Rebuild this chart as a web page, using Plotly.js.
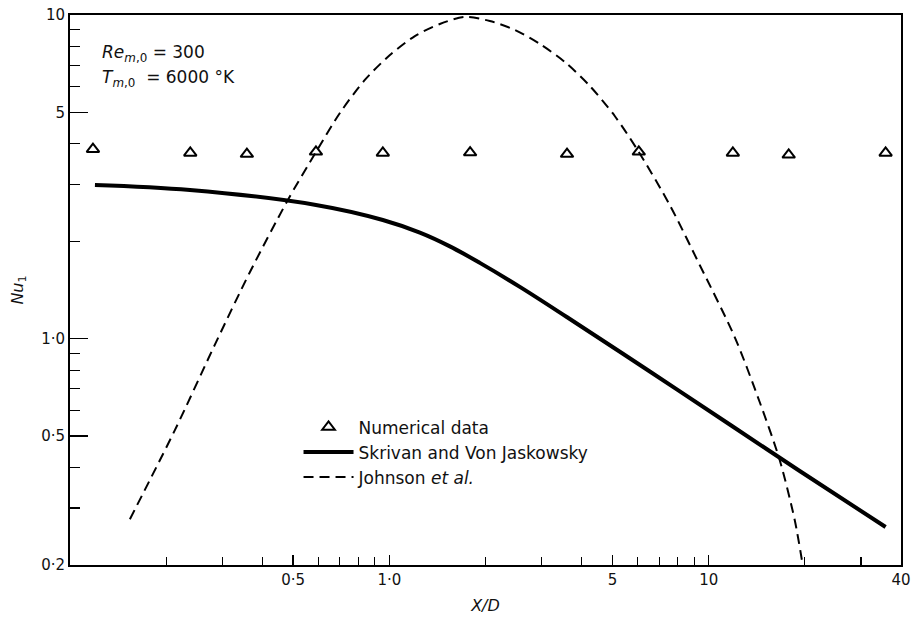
<!DOCTYPE html>
<html>
<head>
<meta charset="utf-8">
<script src="https://cdn.plot.ly/plotly-3.0.1.min.js"></script>
<style>html,body{margin:0;padding:0;background:#fff;}#chart{width:912px;height:617px;}</style>
</head>
<body>
<div id="chart"></div>
<script>
// Numerical data (triangles)
const numX = [0.118, 0.238, 0.358, 0.589, 0.954, 1.79, 3.60, 6.04, 11.9, 17.8, 35.8];
const numY = [3.85, 3.75, 3.72, 3.78, 3.75, 3.76, 3.72, 3.78, 3.75, 3.70, 3.75];
// Skrivan and Von Jaskowsky (solid)
const skX = [0.1197, 0.2375, 0.589, 0.954, 1.246, 1.547, 1.920, 2.562, 3.594, 6.54, 11.89, 19.27, 35.8];
const skY = [2.985, 2.88, 2.589, 2.327, 2.127, 1.929, 1.715, 1.446, 1.167, 0.792, 0.5356, 0.3904, 0.262];
// Johnson et al. (dashed)
const joX = [0.154, 0.213, 0.284, 0.366, 0.481, 0.589, 0.700, 0.838, 1.004, 1.202, 1.439, 1.723,
             2.063, 2.471, 2.959, 3.542, 4.242, 5.079, 6.04, 7.55, 9.37, 12.06, 14.44, 16.68, 18.59, 19.69];
const joY = [0.277, 0.522, 0.957, 1.607, 2.683, 3.774, 4.98, 6.30, 7.52, 8.61, 9.38, 9.86,
             9.58, 8.99, 8.14, 7.16, 6.04, 4.875, 3.774, 2.589, 1.69, 1.012, 0.6375, 0.422, 0.2754, 0.2];
// Axis ticks
const xTickVals = [0.5, 1, 5, 10, 40];
const xTickText = ['0·5', '1·0', '5', '10', '40'];
const xMinorVals = [0.2, 0.3, 0.4, 0.6, 0.7, 0.8, 0.9, 2, 3, 4, 6, 7, 8, 9, 20, 30];
const yTickVals = [0.2, 0.5, 1, 5, 10];
const yTickText = ['0·2', '0·5', '1·0', '5', '10'];
const yMinorVals = [0.3, 0.4, 0.6, 0.7, 0.8, 0.9, 2, 3, 4, 6, 7, 8, 9];

const FONT = 'DejaVu Sans, Liberation Sans, sans-serif';

const traces = [
  {x: numX, y: numY, mode: 'markers', name: 'Numerical data',
   marker: {symbol: 'triangle-up-open', size: 11, color: '#000', line: {width: 2, color: '#000'}}},
  {x: skX, y: skY, mode: 'lines', name: 'Skrivan and Von Jaskowsky',
   line: {color: '#000', width: 4, shape: 'spline', smoothing: 1}},
  {x: joX, y: joY, mode: 'lines', name: 'Johnson <i>et al.</i>',
   line: {color: '#000', width: 2, dash: '10px,6px', shape: 'spline', smoothing: 0.8}}
];

const layout = {
  width: 912, height: 617,
  margin: {l: 70, r: 11, t: 15, b: 52},
  paper_bgcolor: '#fff', plot_bgcolor: '#fff',
  font: {family: FONT, size: 14, color: '#111'},
  showlegend: true,
  legend: {x: 0.275, y: 0.283, xanchor: 'left', yanchor: 'top', bgcolor: 'rgba(0,0,0,0)',
           font: {family: FONT, size: 17, color: '#111'}, itemwidth: 50},
  xaxis: {
    type: 'log', range: [-1, Math.log10(40)],
    showline: true, linecolor: '#000', linewidth: 2, mirror: true,
    showgrid: false, zeroline: false,
    ticks: 'inside', ticklen: 10, tickwidth: 1.5, tickcolor: '#000',
    tickmode: 'array', tickvals: xTickVals, ticktext: xTickText,
    tickfont: {family: FONT, size: 15, color: '#111'},
    minor: {ticks: 'inside', ticklen: 8, tickwidth: 1.2, tickcolor: '#000', tickmode: 'array', tickvals: xMinorVals, showgrid: false},
    title: {text: '<i>X/D</i>', font: {family: FONT, size: 16, color: '#111'}, standoff: 12}
  },
  yaxis: {
    type: 'log', range: [Math.log10(0.2), 1],
    showline: true, linecolor: '#000', linewidth: 2, mirror: true,
    showgrid: false, zeroline: false,
    ticks: 'inside', ticklen: 18, tickwidth: 1.5, tickcolor: '#000',
    tickmode: 'array', tickvals: yTickVals, ticktext: yTickText,
    tickfont: {family: FONT, size: 15, color: '#111'},
    minor: {ticks: 'inside', ticklen: 10, tickwidth: 1.2, tickcolor: '#000', tickmode: 'array', tickvals: yMinorVals, showgrid: false},
    title: {text: '<i>Nu</i><sub>1</sub>', font: {family: FONT, size: 16, color: '#111'}, standoff: 14}
  },
  annotations: [
    {xref: 'paper', yref: 'paper', x: 0.036, y: 0.93, xanchor: 'left', yanchor: 'middle', showarrow: false,
     text: '<i>Re</i><sub><i>m</i>,0</sub> = 300', font: {family: FONT, size: 17, color: '#111'}},
    {xref: 'paper', yref: 'paper', x: 0.036, y: 0.885, xanchor: 'left', yanchor: 'middle', showarrow: false,
     text: '<i>T</i><sub><i>m</i>,0</sub>  = 6000 °K', font: {family: FONT, size: 17, color: '#111'}}
  ]
};

Plotly.newPlot('chart', traces, layout, {displayModeBar: false, staticPlot: true});
</script>
</body>
</html>
